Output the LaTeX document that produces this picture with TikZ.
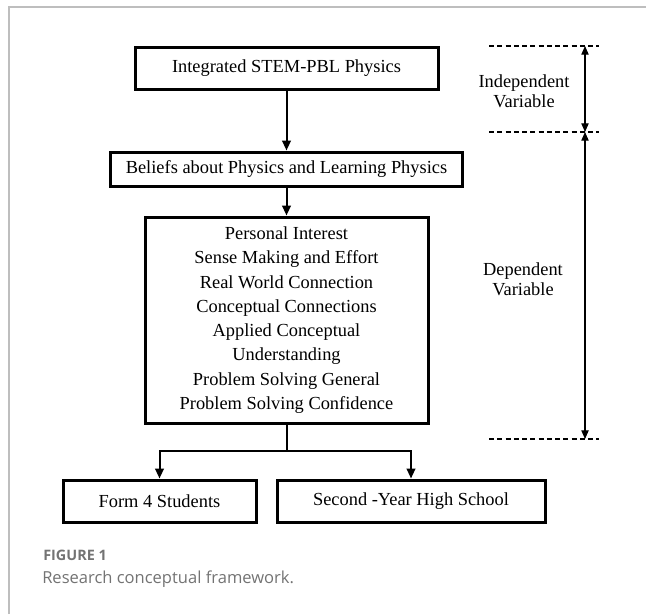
\documentclass[tikz,border=0pt]{standalone}
\usepackage{fontspec}
\setmainfont{Liberation Serif}
\newfontfamily\capfont{Open Sans}
\usetikzlibrary{arrows.meta}

\definecolor{framegray}{RGB}{190,190,190}
\definecolor{capgray}{RGB}{115,115,115}

\tikzset{
  block/.style={draw, line width=2.25pt, inner sep=0pt, align=center,
    font=\fontsize{13.8}{18.2}\selectfont},
  flow/.style={line width=1.5pt, -{Triangle[length=7.5pt,width=6.5pt]}},
  span/.style={line width=0.8pt, {Triangle[length=6.5pt,width=5.5pt]}-{Triangle[length=6.5pt,width=5.5pt]}},
  guide/.style={line width=0.8pt, dash pattern=on 3.8pt off 2.4pt},
  sidelabel/.style={align=center, font=\fontsize{13.8}{15}\selectfont},
}

\begin{document}
\begin{tikzpicture}[x=0.75pt, y=-0.75pt]

  \def\px{0.75pt}
  \useasboundingbox (0,0) rectangle (646,614);

  %frame
  \draw[framegray, line width=0.9pt] (9,614) -- (9,7) -- (646,7);

  %boxes
  \node[block, minimum width=303*\px, minimum height=42*\px] (stem) at (286.5,68) {Integrated STEM-PBL Physics};
  \node[block, minimum width=352*\px, minimum height=34*\px] (beliefs) at (286.5,169) {Beliefs about Physics and Learning Physics};
  \node[block, minimum width=283*\px, minimum height=206*\px] (factors) at (286.5,320)
     {Personal Interest\\Sense Making and Effort\\Real World Connection\\Conceptual Connections\\Applied Conceptual\\Understanding\\Problem Solving General\\Problem Solving Confidence};

  \foreach \x/\w/\txt/\name in {159.5/193/Form 4 Students/form, 411/268/Second -Year High School/second}{
     \node[block, minimum width=\w*\px, minimum height=42*\px] (\name) at (\x,501) {\txt};
  }

  %arrows
  \coordinate (split) at (286.5,451);
  \draw[flow] (stem) -- (beliefs);
  \draw[flow] (beliefs) -- (factors);
  \draw[line width=1.5pt] (factors) -- (split);
  \draw[flow] (split) -| (form);
  \draw[flow] (split) -| (second);

  %variables
  \foreach \y/\name in {46/itop, 132/imid, 439/dbot}{
     \coordinate (\name) at (585,\y);
     \draw[guide] (489,\y) -- (599,\y);
  }
  \draw[span] (itop) -- (imid);
  \draw[span] (imid) -- (dbot);

  \node[sidelabel] (indep) at (524,91) {Independent\\Variable};
  \node[sidelabel] (dep) at (523,279) {Dependent\\Variable};

  %caption
  \node[anchor=west, inner sep=0pt, text=capgray, font=\capfont\bfseries\fontsize{10.8}{12}\selectfont] (fig) at (43,555.5) {FIGURE 1};
  \node[anchor=west, inner sep=0pt, text=capgray, font=\capfont\fontsize{12.4}{15}\selectfont] (cap) at (42,579) {Research conceptual framework.};

\end{tikzpicture}
\end{document}
